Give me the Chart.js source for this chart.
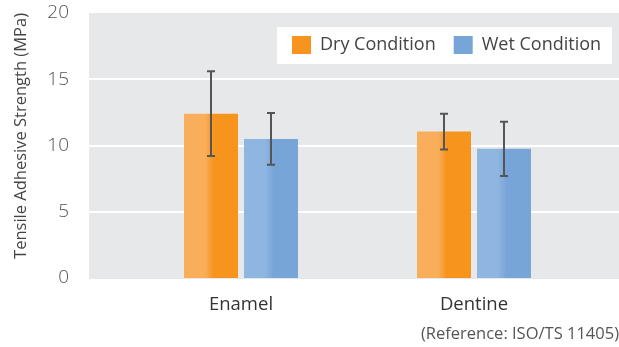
<!DOCTYPE html>
<html><head><meta charset="utf-8">
<script src="https://cdn.jsdelivr.net/npm/chart.js@4.4.1/dist/chart.umd.min.js"></script>
<style>html,body{margin:0;padding:0;background:#fff;}</style>
</head><body>
<canvas id="c" width="619" height="347"></canvas>
<script>
// ---- data ----
const categories = ['Enamel', 'Dentine'];
const seriesNames = ['Dry Condition', 'Wet Condition'];
const dryValues = [12.4, 11.05];
const dryErrors = [3.2, 1.35];
const wetValues = [10.5, 9.75];
const wetErrors = [1.95, 2.05];
const yTicks = [0, 5, 10, 15, 20];
const yTitle = 'Tensile Adhesive Strength (MPa)';
const footnote = '(Reference: ISO/TS 11405)';

// ---- styling ----
const CAT_PCT = 0.515, BAR_PCT = 0.9;
const FONT = "'Open Sans', 'Noto Sans', sans-serif";

function barFill(light, dark, solid) {
  return (c) => {
    if (c.type !== 'data') return solid;
    const chart = c.chart, xs = chart.scales.x;
    if (!xs) return solid;
    const catW = (xs.right - xs.left) / categories.length;
    const slot = catW * CAT_PCT / 2;
    const w = slot * BAR_PCT;
    const center = xs.getPixelForValue(c.dataIndex) + (c.datasetIndex === 0 ? -slot / 2 : slot / 2);
    const x0 = center - w / 2;
    if (!isFinite(x0) || !isFinite(w) || w <= 0) return solid;
    const g = chart.ctx.createLinearGradient(x0, 0, x0 + w, 0);
    g.addColorStop(0, light);
    g.addColorStop(0.39, light);
    g.addColorStop(0.55, dark);
    g.addColorStop(1, dark);
    return g;
  };
}

const backdrop = {
  id: 'backdrop',
  beforeDraw(chart) {
    const ctx = chart.ctx, ys = chart.scales.y;
    const top = ys.getPixelForValue(yTicks[yTicks.length - 1]);
    const bottom = ys.getPixelForValue(yTicks[0]) + 1;
    ctx.save();
    ctx.fillStyle = '#E7E8E9';
    ctx.fillRect(89, top, 619 - 89, bottom - top);
    ctx.strokeStyle = '#FFFFFF';
    ctx.lineWidth = 2;
    yTicks.slice(1, -1).forEach(v => {
      const y = Math.round(ys.getPixelForValue(v));
      ctx.beginPath(); ctx.moveTo(89, y); ctx.lineTo(619, y); ctx.stroke();
    });
    // legend box
    ctx.fillStyle = '#FFFFFF';
    ctx.fillRect(277, 27, 335, 37);
    ctx.restore();
  }
};

const legendPatch = {
  id: 'legendPatch',
  beforeLayout(chart) {
    const lg = chart.legend;
    if (lg && !lg.__patched) {
      const orig = lg.fit.bind(lg);
      lg.fit = function () { orig(); this.height = 0; };
      lg.__patched = true;
    }
  },
  afterLayout(chart) {
    const lg = chart.legend;
    if (!lg) return;
    lg.left = 274; lg.top = 18; lg.right = 680; lg.width = 680 - 274;
    lg.height = 54; lg.bottom = 18 + 54;
  }
};

const errorBars = {
  id: 'errorBars',
  afterDatasetsDraw(chart) {
    const ctx = chart.ctx, ys = chart.scales.y;
    [dryErrors, wetErrors].forEach((errs, di) => {
      const meta = chart.getDatasetMeta(di);
      const vals = chart.data.datasets[di].data;
      meta.data.forEach((bar, i) => {
        const x = Math.round(bar.x);
        const yT = ys.getPixelForValue(vals[i] + errs[i]);
        const yB = ys.getPixelForValue(vals[i] - errs[i]);
        ctx.save();
        ctx.strokeStyle = '#555555';
        ctx.lineWidth = 2;
        ctx.beginPath();
        ctx.moveTo(x, yT); ctx.lineTo(x, yB);
        ctx.moveTo(x - 4, yT); ctx.lineTo(x + 4, yT);
        ctx.moveTo(x - 4, yB); ctx.lineTo(x + 4, yB);
        ctx.stroke();
        ctx.restore();
      });
    });
  }
};

new Chart(document.getElementById('c'), {
  type: 'bar',
  data: {
    labels: categories,
    datasets: [
      { label: seriesNames[0], data: dryValues, backgroundColor: barFill('#F9AE5C', '#F7941E', '#F7941E'),
        borderWidth: 0, categoryPercentage: CAT_PCT, barPercentage: BAR_PCT },
      { label: seriesNames[1], data: wetValues, backgroundColor: barFill('#8FB5E1', '#78A5D7', '#7BA7D9'),
        borderWidth: 0, categoryPercentage: CAT_PCT, barPercentage: BAR_PCT }
    ]
  },
  options: {
    responsive: false,
    animation: false,
    devicePixelRatio: 1,
    layout: { padding: { left: 0, right: 0, top: 13, bottom: 0 } },
    plugins: {
      tooltip: { enabled: false },
      legend: {
        display: true, position: 'top', align: 'start',
        labels: { boxWidth: 19, boxHeight: 18, padding: 18, color: '#444', font: { family: FONT, size: 18 } }
      },
      subtitle: {
        display: true, position: 'bottom', align: 'end', text: footnote,
        color: '#555', font: { family: FONT, size: 16.5, weight: 'normal' }, padding: { top: 0, bottom: 3 }
      }
    },
    scales: {
      x: {
        grid: { display: false, drawTicks: true, tickLength: 8 }, border: { display: false },
        ticks: { padding: 8, color: '#333', font: { family: FONT, size: 18.5 } }
      },
      y: {
        min: 0, max: 20,
        afterBuildTicks(s) { s.ticks = yTicks.map(v => ({ value: v })); },
        afterFit(s) { s.width = 124.5; s.paddingTop = 11; s.paddingBottom = 11; },
        grid: { display: false }, border: { display: false },
        ticks: { padding: 47.5, color: '#555', font: { family: FONT, size: 19, weight: '300' } },
        title: { display: true, text: yTitle, align: 'end', color: '#444', font: { family: FONT, size: 16.5 }, padding: { top: 11, bottom: 0 } }
      },
      y2: {
        type: 'linear', position: 'right', display: true,
        grid: { display: false }, border: { display: false }, ticks: { display: false },
        afterFit(s) { s.width = 28.5; s.paddingTop = 0; s.paddingBottom = 0; }
      }
    }
  },
  plugins: [backdrop, legendPatch, errorBars]
});
</script>
</body></html>
